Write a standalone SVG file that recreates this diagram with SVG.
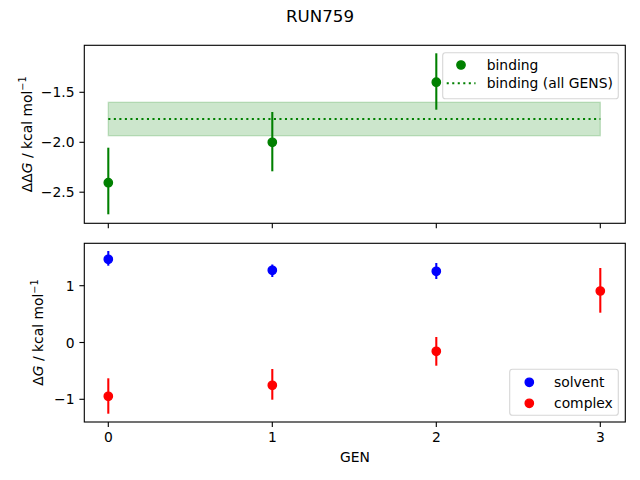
<svg xmlns="http://www.w3.org/2000/svg" width="640" height="480" viewBox="0 0 640 480">
<style>
text{font-family:"DejaVu Sans","Liberation Sans",sans-serif;font-size:13.89px;fill:#000}
.title{font-size:16.67px}
.spine{fill:none;stroke:#000;stroke-width:1.11}
.tick{stroke:#000;stroke-width:1.11}
.eg{stroke:#008000;stroke-width:2.08}
.eb{stroke:#0000ff;stroke-width:2.08}
.er{stroke:#ff0000;stroke-width:2.08}
.mg{fill:#008000;stroke:#008000;stroke-width:1.39}
.mb{fill:#0000ff;stroke:#0000ff;stroke-width:1.39}
.mr{fill:#ff0000;stroke:#ff0000;stroke-width:1.39}
.dot{stroke:#008000;stroke-width:2.08;stroke-dasharray:2.08 3.44;fill:none}
.legend{fill:#fff;fill-opacity:0.8;stroke:#cccccc;stroke-opacity:0.8;stroke-width:1.11}
.rt{text-anchor:end}
.mid{text-anchor:middle}
</style>
<rect width="640" height="480" fill="#fff"/>
<text class="title mid" x="320" y="22">RUN759</text>

<g id="top-axes">
  <rect x="108.3" y="102.3" width="492" height="33.4" fill="#008000" fill-opacity="0.2" stroke="#008000" stroke-opacity="0.2" stroke-width="1.39"/>
  <line class="dot" x1="108.3" y1="119" x2="600.3" y2="119"/>
  <g id="binding-points">
    <line class="eg" x1="108.3" y1="147.7" x2="108.3" y2="214.3"/>
    <circle class="mg" cx="108.3" cy="182.7" r="4.17"/>
    <line class="eg" x1="272.3" y1="112" x2="272.3" y2="171.3"/>
    <circle class="mg" cx="272.3" cy="142.3" r="4.17"/>
    <line class="eg" x1="436.3" y1="53.3" x2="436.3" y2="109.7"/>
    <circle class="mg" cx="436.3" cy="82.2" r="4.17"/>
  </g>
  <rect class="spine" x="84.3" y="45.3" width="541" height="178"/>
  <g id="top-ticks">
    <line class="tick" x1="108.3" y1="223.3" x2="108.3" y2="228.2"/>
    <line class="tick" x1="272.3" y1="223.3" x2="272.3" y2="228.2"/>
    <line class="tick" x1="436.3" y1="223.3" x2="436.3" y2="228.2"/>
    <line class="tick" x1="600.3" y1="223.3" x2="600.3" y2="228.2"/>
    <line class="tick" x1="79.4" y1="92.3" x2="84.3" y2="92.3"/>
    <line class="tick" x1="79.4" y1="142.3" x2="84.3" y2="142.3"/>
    <line class="tick" x1="79.4" y1="192.2" x2="84.3" y2="192.2"/>
    <text class="rt" x="74.5" y="97.3">−1.5</text>
    <text class="rt" x="74.5" y="147.3">−2.0</text>
    <text class="rt" x="74.5" y="197.2">−2.5</text>
  </g>
  <text class="mid" transform="translate(31.5,134.3) rotate(-90)">ΔΔ<tspan font-style="italic">G</tspan> / kcal mol<tspan font-size="9.7" dy="-5.5">−1</tspan></text>
  <g id="top-legend">
    <rect class="legend" x="442.7" y="52.7" width="175.6" height="46" rx="2.8"/>
    <circle class="mg" cx="461" cy="65" r="4.17"/>
    <text x="486.7" y="70">binding</text>
    <line class="dot" x1="446.7" y1="83.3" x2="475.5" y2="83.3"/>
    <text x="486.7" y="88.3">binding (all GENS)</text>
  </g>
</g>

<g id="bottom-axes">
  <g id="solvent-points">
    <line class="eb" x1="108.3" y1="251" x2="108.3" y2="265.7"/>
    <circle class="mb" cx="108.3" cy="259.3" r="4.17"/>
    <line class="eb" x1="272.3" y1="264.5" x2="272.3" y2="277"/>
    <circle class="mb" cx="272.3" cy="270.3" r="4.17"/>
    <line class="eb" x1="436.3" y1="263" x2="436.3" y2="279"/>
    <circle class="mb" cx="436.3" cy="271.3" r="4.17"/>
  </g>
  <g id="complex-points">
    <line class="er" x1="108.3" y1="378.3" x2="108.3" y2="413.7"/>
    <circle class="mr" cx="108.3" cy="396.3" r="4.17"/>
    <line class="er" x1="272.3" y1="369" x2="272.3" y2="399.7"/>
    <circle class="mr" cx="272.3" cy="385.3" r="4.17"/>
    <line class="er" x1="436.3" y1="337" x2="436.3" y2="365.7"/>
    <circle class="mr" cx="436.3" cy="351.3" r="4.17"/>
    <line class="er" x1="600.3" y1="268" x2="600.3" y2="312.7"/>
    <circle class="mr" cx="600.3" cy="291" r="4.17"/>
  </g>
  <rect class="spine" x="84.3" y="243.3" width="541" height="178.7"/>
  <g id="bottom-ticks">
    <line class="tick" x1="108.3" y1="422" x2="108.3" y2="426.9"/>
    <line class="tick" x1="272.3" y1="422" x2="272.3" y2="426.9"/>
    <line class="tick" x1="436.3" y1="422" x2="436.3" y2="426.9"/>
    <line class="tick" x1="600.3" y1="422" x2="600.3" y2="426.9"/>
    <text class="mid" x="108.3" y="442">0</text>
    <text class="mid" x="272.3" y="442">1</text>
    <text class="mid" x="436.3" y="442">2</text>
    <text class="mid" x="600.3" y="442">3</text>
    <line class="tick" x1="79.4" y1="285.7" x2="84.3" y2="285.7"/>
    <line class="tick" x1="79.4" y1="342.5" x2="84.3" y2="342.5"/>
    <line class="tick" x1="79.4" y1="399.3" x2="84.3" y2="399.3"/>
    <text class="rt" x="74.5" y="290.7">1</text>
    <text class="rt" x="74.5" y="347.5">0</text>
    <text class="rt" x="74.5" y="404.3">−1</text>
  </g>
  <text class="mid" x="355" y="461.7">GEN</text>
  <text class="mid" transform="translate(43,332.6) rotate(-90)">Δ<tspan font-style="italic">G</tspan> / kcal mol<tspan font-size="9.7" dy="-5.5">−1</tspan></text>
  <g id="bottom-legend">
    <rect class="legend" x="509.7" y="369.3" width="108.6" height="46" rx="2.8"/>
    <circle class="mb" cx="529.3" cy="382.3" r="4.17"/>
    <text x="554" y="387.3">solvent</text>
    <circle class="mr" cx="529.3" cy="403.3" r="4.17"/>
    <text x="554" y="408.3">complex</text>
  </g>
</g>
</svg>
